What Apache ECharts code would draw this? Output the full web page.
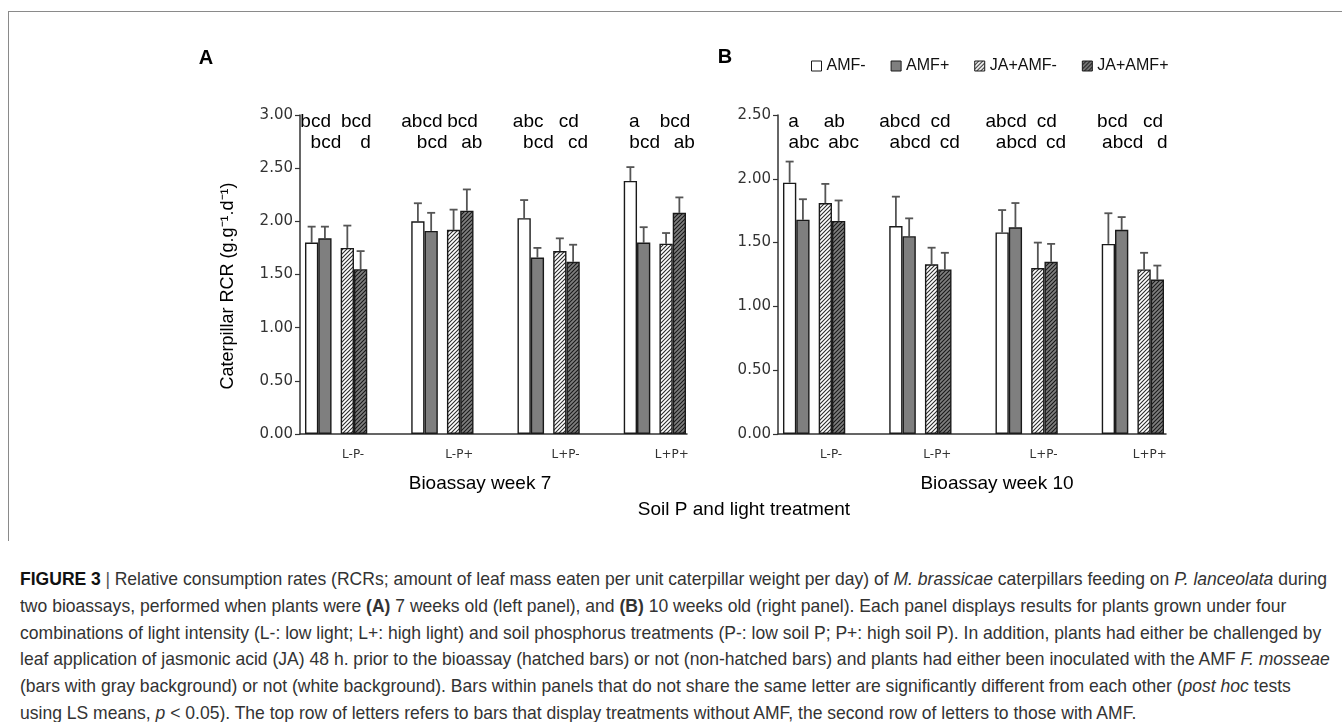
<!DOCTYPE html>
<html>
<head>
<meta charset="utf-8">
<title>Caterpillar RCR</title>
<script src="https://cdn.jsdelivr.net/npm/echarts@6/dist/echarts.min.js"></script>
<style>
  html, body { margin: 0; padding: 0; background: #fff; }
  #frame { position: absolute; left: 8px; top: 11px; width: 1334px; height: 529px;
           border-top: 1px solid #8a8a8a; border-left: 1px solid #8a8a8a; }
  #chart { position: absolute; left: 0; top: 0; width: 1342px; height: 560px; }
  #caption { position: absolute; left: 20px; top: 566px; color: #333;
             font-family: "Liberation Sans", Arial, sans-serif;
             font-size: 19px; line-height: 26.8px; white-space: nowrap; transform-origin: 0 0; }
  #caption .ln { display: inline-block; }
  #caption .fig { color: #111; font-weight: bold; }
  #caption .sep { color: #555; padding: 0 5px; }
</style>
</head>
<body>
<div id="frame"></div>
<div id="chart"></div>
<div id="caption">
<span class="ln"><span class="fig">FIGURE 3</span><span class="sep">|</span>Relative consumption rates (RCRs; amount of leaf mass eaten per unit caterpillar weight per day) of <i>M. brassicae</i> caterpillars feeding on <i>P. lanceolata</i> during</span><br>
<span class="ln">two bioassays, performed when plants were <b>(A)</b> 7 weeks old (left panel), and <b>(B)</b> 10 weeks old (right panel). Each panel displays results for plants grown under four</span><br>
<span class="ln">combinations of light intensity (L-: low light; L+: high light) and soil phosphorus treatments (P-: low soil P; P+: high soil P). In addition, plants had either be challenged by</span><br>
<span class="ln">leaf application of jasmonic acid (JA) 48 h. prior to the bioassay (hatched bars) or not (non-hatched bars) and plants had either been inoculated with the AMF <i>F. mosseae</i></span><br>
<span class="ln">(bars with gray background) or not (white background). Bars within panels that do not share the same letter are significantly different from each other (<i>post hoc</i> tests</span><br>
<span class="ln">using LS means, <i>p</i> &lt; 0.05). The top row of letters refers to bars that display treatments without AMF, the second row of letters to those with AMF.</span>
</div>
<script>
/* RCR of caterpillars, two bioassays */
var categories = ['L-P-', 'L-P+', 'L+P-', 'L+P+'];
var treatments = ['AMF-', 'AMF+', 'JA+AMF-', 'JA+AMF+'];

// week 7 : rows follow treatments
var w7Means = [
  [1.80, 2.00, 2.03, 2.38],
  [1.84, 1.91, 1.66, 1.80],
  [1.75, 1.92, 1.72, 1.79],
  [1.55, 2.10, 1.62, 2.08]
];
var w7Errors = [
  [0.15, 0.17, 0.17, 0.13],
  [0.11, 0.17, 0.09, 0.145],
  [0.21, 0.19, 0.12, 0.10],
  [0.17, 0.20, 0.16, 0.145]
];
var w7Letters = [
  ['bcd', 'abcd', 'abc', 'a'],
  ['bcd', 'bcd', 'bcd', 'bcd'],
  ['bcd', 'bcd', 'cd', 'bcd'],
  ['d', 'ab', 'cd', 'ab']
];

// week 10
var w10Means = [
  [1.97, 1.63, 1.58, 1.49],
  [1.68, 1.55, 1.62, 1.60],
  [1.81, 1.33, 1.30, 1.29],
  [1.67, 1.29, 1.35, 1.21]
];
var w10Errors = [
  [0.165, 0.23, 0.175, 0.24],
  [0.16, 0.14, 0.19, 0.10],
  [0.15, 0.13, 0.20, 0.13],
  [0.16, 0.13, 0.14, 0.11]
];
var w10Letters = [
  ['a', 'abcd', 'abcd', 'bcd'],
  ['abc', 'abcd', 'abcd', 'abcd'],
  ['ab', 'cd', 'cd', 'cd'],
  ['abc', 'cd', 'cd', 'd']
];

var yMaxes = [3, 2.5];

// bar centre inside its band (fraction of band width), letter nudges in px
var barCenters = [0.1095, 0.2345, 0.4455, 0.5705];
var letterShift = [4, 1, 9, 5];

function hatch(bg, fg) {
  var c = document.createElement('canvas');
  c.width = 4; c.height = 4;
  var g = c.getContext('2d');
  g.fillStyle = bg; g.fillRect(0, 0, 4, 4);
  g.strokeStyle = fg; g.lineWidth = 1.1;
  g.beginPath();
  g.moveTo(0, 4); g.lineTo(4, 0);
  g.moveTo(-1, 1); g.lineTo(1, -1);
  g.moveTo(3, 5); g.lineTo(5, 3);
  g.stroke();
  return { image: c, repeat: 'repeat' };
}

var fills = ['#ffffff', '#7f7f7f', hatch('#ffffff', '#2b2b2b'), hatch('#7f7f7f', '#1a1a1a')];
var font = '"Liberation Sans", Arial, sans-serif';

function barSeries(p, k, data) {
  return {
    type: 'bar', name: treatments[k], xAxisIndex: p, yAxisIndex: p,
    barWidth: '12.5%', barGap: 0, data: data, z: 3,
    itemStyle: { color: fills[k], borderColor: '#1a1a1a', borderWidth: 1.4 }
  };
}
function spacer(p, w) {
  return { type: 'bar', name: 'gap' + p + w, xAxisIndex: p, yAxisIndex: p, barWidth: w,
           barGap: 0, data: ['-', '-', '-', '-'], silent: true, itemStyle: { color: 'transparent' } };
}

function errorSeries(p, means, errs) {
  var d = [];
  for (var k = 0; k < 4; k++)
    for (var i = 0; i < categories.length; i++)
      d.push([i, means[k][i], errs[k][i], k]);
  return {
    type: 'custom', xAxisIndex: p, yAxisIndex: p, z: 2, silent: true,
    encode: { x: 0, y: 1 },
    renderItem: function(params, api) {
      var c = api.coord([api.value(0), api.value(1)]);
      var t = api.coord([api.value(0), api.value(1) + api.value(2)]);
      var bw = api.size([1, 0])[0];
      var x = c[0] - bw / 2 + bw * barCenters[api.value(3)];
      var st = { stroke: '#555', lineWidth: 1.8 };
      return { type: 'group', children: [
        { type: 'line', shape: { x1: x, y1: c[1], x2: x, y2: t[1] }, style: st },
        { type: 'line', shape: { x1: x - 4, y1: t[1], x2: x + 4, y2: t[1] }, style: st }
      ]};
    },
    data: d
  };
}

function letterSeries(p, letters) {
  var d = [];
  for (var k = 0; k < 4; k++)
    for (var i = 0; i < categories.length; i++)
      d.push([i, k]);
  return {
    type: 'custom', xAxisIndex: p, yAxisIndex: p, z: 4, silent: true,
    encode: { x: 0 },
    renderItem: function(params, api) {
      var i = api.value(0), k = api.value(1);
      var top = api.coord([i, yMaxes[p]]);
      var bw = api.size([1, 0])[0];
      var x = top[0] - bw / 2 + bw * barCenters[k] + letterShift[k];
      var row = (k === 0 || k === 2) ? 0 : 1;
      return { type: 'text', x: x, y: top[1] + 7 + row * 21,
        style: { text: letters[k][i], fill: '#000', font: '19px ' + font, align: 'center', verticalAlign: 'middle' } };
    },
    data: d
  };
}

function yAxis(p) {
  return {
    type: 'value', gridIndex: p, min: 0, max: yMaxes[p], interval: 0.5,
    axisLine: { show: true, lineStyle: { color: '#333', width: 1.5 } },
    axisTick: { show: true, length: 5, lineStyle: { color: '#333', width: 1.2 } },
    splitLine: { show: false },
    axisLabel: { margin: 7, color: '#333', fontSize: 15, fontFamily: '"DejaVu Sans", sans-serif',
                 formatter: function(v) { return v.toFixed(2); } }
  };
}

var chart = echarts.init(document.getElementById('chart'));
var series = [];
[[w7Means, w7Errors, w7Letters], [w10Means, w10Errors, w10Letters]].forEach(function(set, p) {
  series.push(barSeries(p, 0, set[0][0]));
  series.push(barSeries(p, 1, set[0][1]));
  series.push(spacer(p, '8.6%'));
  series.push(barSeries(p, 2, set[0][2]));
  series.push(barSeries(p, 3, set[0][3]));
  series.push(spacer(p, '32%'));
  series.push(errorSeries(p, set[0], set[1]));
  series.push(letterSeries(p, set[2]));
});

var lineAxis = { show: true, onZero: false, lineStyle: { color: '#333', width: 1.5 } };

chart.setOption({
  animation: false,
  grid: [
    { left: 300, top: 115, width: 425, height: 319, containLabel: false, outerBoundsMode: 'none' },
    { left: 778, top: 115, width: 425, height: 319, containLabel: false, outerBoundsMode: 'none' },
    { left: 300, top: 115, width: 387, height: 319, containLabel: false, outerBoundsMode: 'none' },
    { left: 778, top: 115, width: 388, height: 319, containLabel: false, outerBoundsMode: 'none' }
  ],
  xAxis: [0, 1].map(function(p) {
    return {
      type: 'category', gridIndex: p, data: categories,
      axisLine: { show: false }, axisTick: { show: false },
      axisLabel: { margin: 15, color: '#333', fontSize: 12, fontFamily: '"DejaVu Sans", sans-serif' }
    };
  }).concat([2, 3].map(function(p) {
    return { type: 'value', gridIndex: p, min: 0, max: 1, axisLine: lineAxis,
             axisTick: { show: false }, axisLabel: { show: false }, splitLine: { show: false } };
  })),
  yAxis: [yAxis(0), yAxis(1)].concat([2, 3].map(function(p) {
    return { type: 'value', gridIndex: p, show: false };
  })),
  legend: {
    data: treatments, left: 811, top: 58, padding: 0, icon: 'rect', itemWidth: 10, itemHeight: 10,
    itemGap: 25, selectedMode: false,
    itemStyle: { borderColor: '#1a1a1a', borderWidth: 1 },
    textStyle: { fontSize: 16, color: '#111', fontFamily: font }
  },
  graphic: [
    { type: 'text', x: 206, y: 58, style: { text: 'A', font: 'bold 20px ' + font, fill: '#000', align: 'center', verticalAlign: 'middle' } },
    { type: 'text', x: 725, y: 57, style: { text: 'B', font: 'bold 20px ' + font, fill: '#000', align: 'center', verticalAlign: 'middle' } },
    { type: 'text', x: 228, y: 286, rotation: Math.PI / 2,
      style: { text: 'Caterpillar RCR (g.g\u207B\u00B9.d\u207B\u00B9)', font: '18px ' + font, fill: '#000', align: 'center', verticalAlign: 'middle' } },
    { type: 'text', x: 480, y: 484, style: { text: 'Bioassay week 7', font: '19px ' + font, fill: '#000', align: 'center', verticalAlign: 'middle' } },
    { type: 'text', x: 997, y: 484, style: { text: 'Bioassay week 10', font: '19px ' + font, fill: '#000', align: 'center', verticalAlign: 'middle' } },
    { type: 'text', x: 744, y: 510, style: { text: 'Soil P and light treatment', font: '19px ' + font, fill: '#000', align: 'center', verticalAlign: 'middle' } }
  ],
  series: series
});

// squeeze the caption horizontally like the condensed face of the original
(function() {
  var cap = document.getElementById('caption');
  var w = cap.querySelector('.ln').getBoundingClientRect().width;
  if (w > 0) cap.style.transform = 'scaleX(' + (1307 / w).toFixed(4) + ')';
})();
</script>
</body>
</html>
